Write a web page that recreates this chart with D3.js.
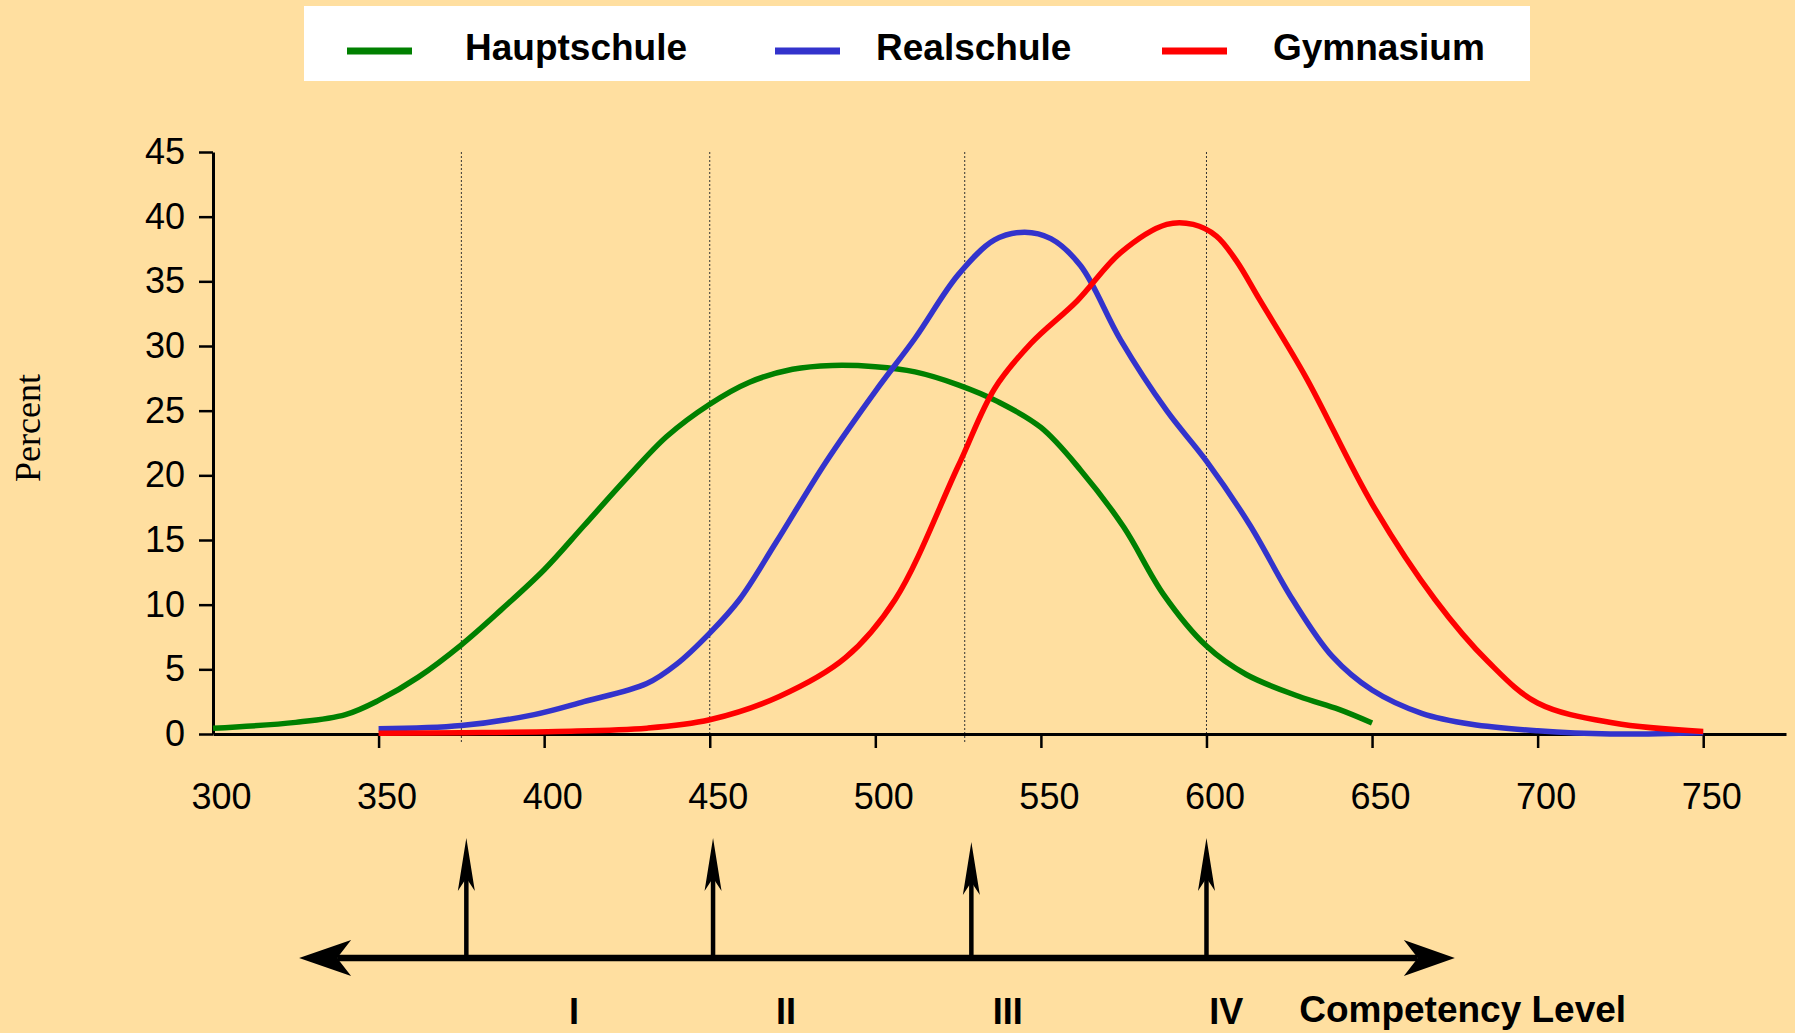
<!DOCTYPE html>
<html>
<head>
<meta charset="utf-8">
<script src="https://cdn.jsdelivr.net/npm/d3@7"></script>
<style>
  html, body { margin: 0; padding: 0; background: #FFDFA0; }
  svg { display: block; }
</style>
</head>
<body>
<svg id="chart" width="1795" height="1033"></svg>
<script>
// ---------- data ----------
const seriesNames = ["Hauptschule", "Realschule", "Gymnasium"];
const seriesColors = ["#008000", "#3333CC", "#FF0000"];

const hauptX = [300,325,340,350,362,375,387,400,412,425,437,450,462,475,487,500,512,525,537,550,562,575,587,600,612,628,640,650];
const hauptY = [0.45,0.9,1.5,2.6,4.4,6.9,9.6,12.7,16.1,19.8,23.0,25.5,27.2,28.2,28.5,28.4,28.0,27.0,25.7,23.7,20.4,16.0,10.8,6.8,4.6,2.9,1.9,0.85];

const realX = [350,375,397,412,431,440,450,459,470,485,500,512,525,536,545,553,562,574,588,600,613,626,638,650,665,680,700,722,750];
const realY = [0.4,0.65,1.5,2.5,3.9,5.4,7.8,10.4,14.8,21.0,26.5,30.6,35.5,38.2,38.8,38.3,36.2,30.5,25.0,21.1,16.2,10.4,6.0,3.4,1.6,0.75,0.25,0.0,0.1];

const gymX = [350,375,404,431,450,471,491,506,525,536,547,561,574,588,596,603,609,616,630,650,669,685,700,723,750];
const gymY = [0.05,0.1,0.2,0.45,1.1,2.9,5.9,10.4,20.7,26.7,30.2,33.5,37.2,39.4,39.4,38.5,36.6,33.6,27.6,17.8,10.4,5.6,2.4,0.85,0.2];

const yTicks = [0,5,10,15,20,25,30,35,40,45];
const xTickLabels = [300,350,400,450,500,550,600,650,700,750];
const levelCuts = [375, 450, 527, 600];
const levelArrows = [376.5, 451, 529, 600];
const levelLabels = ["I", "II", "III", "IV"];
const levelLabelPos = [409, 473, 540, 606];
const levelAxisEnds = [326, 675];
const levelTitle = "Competency Level";
const yTitle = "Percent";

// ---------- layout ----------
const SANS = '"Liberation Sans", Arial, Helvetica, sans-serif';
const SERIF = '"Liberation Serif", "Times New Roman", Times, serif';
const svg = d3.select("#chart");
const W = 1795, H = 1033;
svg.append("rect").attr("width", W).attr("height", H).attr("fill", "#FFDFA0");

const x = d3.scaleLinear().domain([300, 775]).range([213, 1786]);
const y = d3.scaleLinear().domain([0, 45]).range([734, 152]);

// dotted level lines
svg.append("g").selectAll("line").data(levelCuts).join("line")
  .attr("x1", d => x(d)).attr("x2", d => x(d))
  .attr("y1", y(45)).attr("y2", y(0) + 10)
  .attr("stroke", "#333").attr("stroke-width", 1)
  .attr("stroke-dasharray", "2,2");

// axes
const yAxis = d3.axisLeft(y).tickValues(yTicks).tickSize(14).tickSizeOuter(0).tickPadding(14);
const gy = svg.append("g").attr("transform", `translate(${x(300)},0)`).call(yAxis);
gy.selectAll("text").style("font-size", "36px").style("font-family", SANS).attr("fill", "#000");
gy.selectAll("line").attr("stroke", "#000").attr("stroke-width", 2.5);
gy.select(".domain").attr("stroke", "#000").attr("stroke-width", 3);

const xAxis = d3.axisBottom(x).tickValues(xTickLabels).tickSize(14).tickSizeOuter(0).tickPadding(35);
const gx = svg.append("g").attr("transform", `translate(0,${y(0)})`).call(xAxis);
gx.selectAll("text").style("font-size", "36px").style("font-family", SANS).attr("fill", "#000").attr("dx", 8);
gx.selectAll(".tick line").attr("stroke", "#000").attr("stroke-width", 2.5)
  .attr("opacity", d => d === 300 ? 0 : 1);
gx.select(".domain").attr("stroke", "#000").attr("stroke-width", 3);

// curves
const line = d3.line().x(d => x(d[0])).y(d => y(d[1])).curve(d3.curveCatmullRom.alpha(0.5));
const series = [
  d3.zip(hauptX, hauptY),
  d3.zip(realX, realY),
  d3.zip(gymX, gymY)
];
svg.append("g").selectAll("path").data(series).join("path")
  .attr("d", line)
  .attr("fill", "none")
  .attr("stroke", (d, i) => seriesColors[i])
  .attr("stroke-width", 5.5)
  .attr("stroke-linecap", "butt")
  .attr("stroke-linejoin", "round");

// y title
svg.append("text")
  .attr("transform", "translate(40,428) rotate(-90)")
  .attr("text-anchor", "middle")
  .style("font-family", SERIF)
  .style("font-size", "36px")
  .attr("fill", "#000")
  .text(yTitle);

// legend
const legend = svg.append("g");
legend.append("rect").attr("x", 304).attr("y", 6).attr("width", 1226).attr("height", 75).attr("fill", "#fff");
const legX = [347, 775, 1162];
const legTextX = [465, 876, 1273];
seriesNames.forEach((n, i) => {
  legend.append("line")
    .attr("x1", legX[i]).attr("x2", legX[i] + 65)
    .attr("y1", 51).attr("y2", 51)
    .attr("stroke", seriesColors[i]).attr("stroke-width", 7);
  legend.append("text")
    .attr("x", legTextX[i]).attr("y", 60)
    .style("font-family", SANS).style("font-size", "37px").style("font-weight", "bold")
    .attr("fill", "#000")
    .text(n);
});

// competency level arrows
const arrowY = 958;
const ga = svg.append("g");
const xl = x(levelAxisEnds[0]), xr = x(levelAxisEnds[1]);
ga.append("line").attr("x1", xl + 38).attr("x2", xr - 37)
  .attr("y1", arrowY).attr("y2", arrowY)
  .attr("stroke", "#000").attr("stroke-width", 6.5);
ga.append("path")
  .attr("d", `M${xl},${arrowY} L${xl + 52},${arrowY - 18} L${xl + 38},${arrowY} L${xl + 52},${arrowY + 18} Z`)
  .attr("fill", "#000");
ga.append("path")
  .attr("d", `M${xr},${arrowY} L${xr - 51},${arrowY - 18} L${xr - 37},${arrowY} L${xr - 51},${arrowY + 18} Z`)
  .attr("fill", "#000");

const tipYs = [838, 838, 842, 838];
levelArrows.forEach((v, i) => {
  const ax = x(v), ty = tipYs[i];
  ga.append("line").attr("x1", ax).attr("x2", ax)
    .attr("y1", ty + 38).attr("y2", arrowY)
    .attr("stroke", "#000").attr("stroke-width", 4.5);
  ga.append("path")
    .attr("d", `M${ax},${ty} L${ax + 8.5},${ty + 53} L${ax},${ty + 40} L${ax - 8.5},${ty + 53} Z`)
    .attr("fill", "#000");
});

ga.selectAll("text.lvl").data(levelLabels).join("text")
  .attr("class", "lvl")
  .attr("x", (d, i) => x(levelLabelPos[i]))
  .attr("y", 1024)
  .attr("text-anchor", "middle")
  .style("font-family", SANS).style("font-size", "36px").style("font-weight", "bold")
  .attr("fill", "#000")
  .text(d => d);

ga.append("text")
  .attr("x", x(628)).attr("y", 1022)
  .style("font-family", SANS).style("font-size", "37px").style("font-weight", "bold")
  .attr("fill", "#000")
  .text(levelTitle);
</script>
</body>
</html>
